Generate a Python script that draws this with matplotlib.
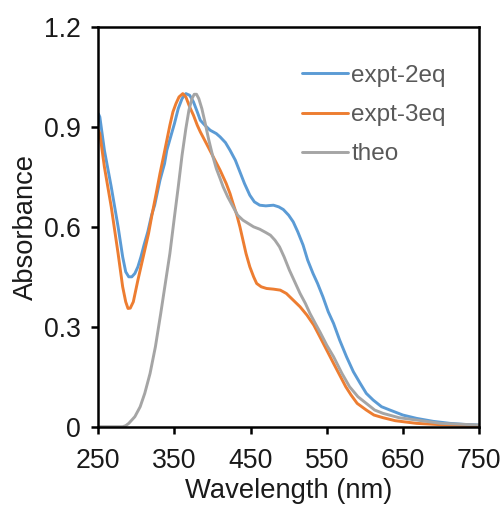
import matplotlib
matplotlib.use("Agg")
import matplotlib.pyplot as plt

plt.rcParams['font.family'] = ['Liberation Sans', 'DejaVu Sans']

# ---- data ----
wl_2eq = [250, 252, 258, 267, 276, 282, 286, 290, 294, 298, 302, 306, 310, 315, 320, 324, 331,
          337, 340, 345, 350, 355, 360, 365, 370, 375, 380, 384, 390, 397, 405, 410, 417, 423,
          430, 436, 442, 449, 455, 462, 470, 480, 487, 493, 500, 506, 512, 519, 525, 532, 538,
          545, 552, 559, 567, 576, 585, 594, 602, 611, 622, 633, 650, 668, 690, 712, 730, 750]
abs_2eq = [0.94, 0.93, 0.83, 0.72, 0.60, 0.51, 0.465, 0.45, 0.45, 0.46, 0.48, 0.51, 0.545, 0.585, 0.635, 0.665, 0.74,
           0.79, 0.83, 0.87, 0.91, 0.955, 0.985, 1.0, 0.995, 0.975, 0.945, 0.92, 0.905, 0.89, 0.88, 0.87, 0.853, 0.83,
           0.80, 0.765, 0.73, 0.695, 0.675, 0.665, 0.663, 0.665, 0.66, 0.652, 0.635, 0.615, 0.585, 0.545, 0.50, 0.46, 0.43,
           0.39, 0.345, 0.31, 0.26, 0.21, 0.165, 0.13, 0.10, 0.08, 0.06, 0.05, 0.035, 0.025, 0.016, 0.01, 0.007, 0.005]

wl_3eq = [250, 252, 258, 267, 276, 282, 286, 289, 292, 296, 302, 306, 311, 316, 320, 326, 331,
          336, 340, 344, 348, 352, 356, 361, 365, 370, 375, 380, 384, 392, 401, 410, 418, 423,
          427, 432, 436, 440, 444, 449, 454, 458, 464, 471, 480, 489, 497, 506, 515, 524, 533,
          541, 550, 559, 567, 575, 582, 590, 602, 612, 624, 640, 668, 700, 750]
abs_3eq = [0.89, 0.88, 0.78, 0.66, 0.52, 0.42, 0.375, 0.355, 0.356, 0.375, 0.44, 0.48, 0.53, 0.58, 0.63, 0.70, 0.76,
           0.815, 0.86, 0.905, 0.945, 0.97, 0.99, 1.0, 0.99, 0.96, 0.935, 0.905, 0.885, 0.85, 0.81, 0.77, 0.73, 0.70,
           0.67, 0.635, 0.60, 0.56, 0.52, 0.48, 0.45, 0.43, 0.42, 0.415, 0.413, 0.41, 0.40, 0.38, 0.36, 0.335, 0.305,
           0.27, 0.23, 0.19, 0.155, 0.12, 0.095, 0.07, 0.05, 0.035, 0.027, 0.018, 0.01, 0.006, 0.003]

wl_theo = [250, 282, 286, 290, 298, 305, 311, 318, 325, 332, 338, 344, 350, 355, 360, 365, 369, 373,
           376, 379, 382, 386, 390, 395, 400, 405, 410, 414, 420, 427, 433, 440, 447, 454, 462, 470, 476,
           482, 488, 494, 501, 508, 515, 522, 528, 535, 541, 550, 559, 570, 580, 591, 602, 613, 624,
           645, 668, 700, 750]
abs_theo = [0.0, 0.0, 0.003, 0.01, 0.03, 0.06, 0.10, 0.16, 0.24, 0.34, 0.43, 0.52, 0.63, 0.72, 0.815, 0.895, 0.95, 0.985,
            0.998, 0.998, 0.985, 0.955, 0.915, 0.862, 0.815, 0.775, 0.745, 0.72, 0.69, 0.66, 0.635, 0.62, 0.61, 0.60, 0.593, 0.583, 0.575,
            0.56, 0.54, 0.51, 0.47, 0.435, 0.40, 0.37, 0.34, 0.31, 0.285, 0.245, 0.21, 0.16, 0.12, 0.09, 0.07, 0.05, 0.04,
            0.027, 0.02, 0.01, 0.005]

labels = ["expt-2eq", "expt-3eq", "theo"]
colors = ["#5B9BD5", "#ED7D31", "#A5A5A5"]
xticks = [250, 350, 450, 550, 650, 750]
yticks = [0, 0.3, 0.6, 0.9, 1.2]
ytick_labels = ["0", "0.3", "0.6", "0.9", "1.2"]

fig = plt.figure(figsize=(5.04, 5.05), dpi=100)
ax = fig.add_axes([98.3 / 504, 78.3 / 505, 380.7 / 504, 399.7 / 505])

for wl, ab, lab, c in zip([wl_2eq, wl_3eq, wl_theo], [abs_2eq, abs_3eq, abs_theo], labels, colors):
    ax.plot(wl, ab, color=c, lw=2.1, label=lab, solid_joinstyle='round', solid_capstyle='round')

ax.set_xlim(250, 750)
ax.set_ylim(0, 1.2)
ax.set_xticks(xticks)
ax.set_yticks(yticks)
ax.set_yticklabels(ytick_labels)
ax.tick_params(axis='both', which='major', direction='out', length=5, width=1.8,
               labelsize=19.2, colors='black', labelcolor='#1a1a1a')
ax.tick_params(axis='x', pad=10)
ax.tick_params(axis='y', pad=7.5)
for s in ax.spines.values():
    s.set_linewidth(1.8)
    s.set_color('black')

ax.set_xlabel("Wavelength (nm)", fontsize=19.7, color='#1a1a1a', labelpad=3)
ax.set_ylabel("Absorbance", fontsize=19.7, color='#1a1a1a', labelpad=4)

leg = ax.legend(loc='upper left', bbox_to_anchor=(0.534, 0.905), frameon=False,
                fontsize=17.5, handlelength=1.9, handletextpad=0.15, labelspacing=0.7,
                borderpad=0, borderaxespad=0)
for t in leg.get_texts():
    t.set_color('#595959')

fig.savefig("out.png", dpi=100)
